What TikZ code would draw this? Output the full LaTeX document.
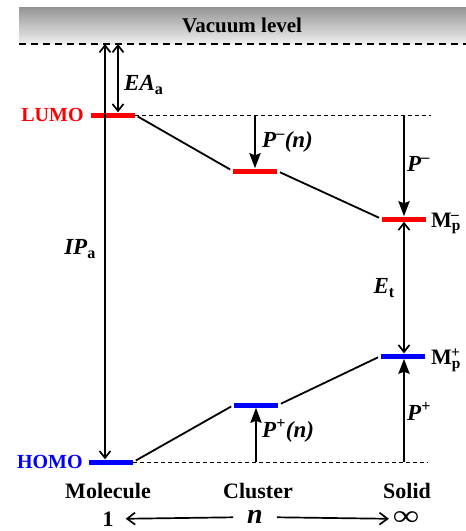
\documentclass[tikz,border=0pt]{standalone}
\usepackage{fontspec}
\setmainfont{Liberation Serif}
\usepackage{xcolor}
\usepackage{tikz}
\usetikzlibrary{positioning,arrows.meta}

\begin{document}
\begin{tikzpicture}[x=1pt,y=-1pt,
  every node/.style={inner sep=1pt},
  level/.style={rectangle,minimum width=44pt,minimum height=5pt,inner sep=0pt},
  lumolvl/.style={level,fill=red},
  homolvl/.style={level,fill=blue},
  lbl/.style={font=\fontsize{23}{27}\selectfont\bfseries\itshape},
  capt/.style={font=\fontsize{22}{26}\selectfont\bfseries},
  thinarr/.style={line width=1.7pt,{Straight Barb[length=7pt,width=11pt]}-{Straight Barb[length=7pt,width=11pt]}},
  thickarr/.style={line width=2.7pt,-{Stealth[length=15pt,width=11pt,inset=2pt]}},
  link/.style={line width=1.8pt,shorten <=3pt,shorten >=3pt},
  refline/.style={line width=1pt,dash pattern=on 4pt off 3pt}]
  \useasboundingbox (0,0) rectangle (466,531);
  % vacuum level band
  \fill[top color=black!42,bottom color=black!6] (19,7) rectangle (466,44);
  \node[font=\fontsize{21}{25}\selectfont\bfseries] (vac) at (242,25) {Vacuum level};
  \coordinate (vacL) at (19,44);
  \coordinate (vacR) at (466,44);
  \draw[line width=2pt,dash pattern=on 7pt off 5pt] (vacL) -- (vacR);
  \coordinate (vacIP) at (105,44);
  \coordinate (vacEA) at (118,44);

  % energy levels: molecule, cluster, solid
  \node[lumolvl] (lumoM) at (113,115) {};
  \node[lumolvl] (lumoC) at (255,171) {};
  \node[lumolvl] (lumoS) at (404,219) {};
  \node[homolvl] (homoM) at (111,462) {};
  \node[homolvl] (homoC) at (256,405) {};
  \node[homolvl] (homoS) at (403,356) {};
  \coordinate (lumoEnd) at (431,115);
  \coordinate (homoEnd) at (428,462);

  \node[font=\fontsize{20}{24}\selectfont\bfseries,text=red,left=6pt of lumoM] (lumo) {LUMO};
  \node[font=\fontsize{20}{24}\selectfont\bfseries,text=blue,left=5pt of homoM] (homo) {HOMO};

  \draw[refline] (lumoM.east) -- (lumoEnd);
  \draw[refline] (homoM.east) -- (homoEnd);
  \draw[link] (lumoM.east) -- (lumoC.west);
  \draw[link] (lumoC.east) -- (lumoS.west);
  \draw[link] (homoM.east) -- (homoC.west);
  \draw[link] (homoC.east) -- (homoS.west);

  % molecule
  \draw[thinarr] (vacIP) -- (vacIP |- homoM.north);
  \draw[thinarr] (vacEA) -- (vacEA |- lumoM.north);
  \node[lbl,anchor=west] (ea) at (123,85) {EA\textsubscript{\upshape a}};
  \node[lbl,anchor=east] (ip) at (97,249) {IP\textsubscript{\upshape a}};

  % cluster
  \draw[thickarr] (lumoC |- lumoM) -- (lumoC.north);
  \draw[thickarr] (homoC |- homoM) -- (homoC.south);
  \node[lbl,anchor=west] (pmn) at (261,142) {P\textsuperscript{\upshape –}(n)};
  \node[lbl,anchor=west] (ppn) at (261,431) {P\textsuperscript{\upshape +}(n)};

  % solid
  \draw[thickarr] (lumoS |- lumoM) -- (lumoS.north);
  \draw[thickarr] (lumoS |- homoM) -- (lumoS |- homoS.south);
  \draw[thinarr] (lumoS.south) -- (lumoS |- homoS.north);
  \node[lbl,anchor=west] (pm) at (406,164) {P\textsuperscript{\upshape –}};
  \node[lbl,anchor=west] (pp) at (406,411) {P\textsuperscript{\upshape +}};
  \node[lbl,anchor=east] (et) at (396,288) {E\textsubscript{\upshape t}};
  \node[font=\fontsize{22}{26}\selectfont\bfseries,anchor=west] (mpm) at (430,223) {M\textsubscript{p}\kern-0.45em\textsuperscript{–}};
  \node[font=\fontsize{22}{26}\selectfont\bfseries,anchor=west] (mpp) at (430,360) {M\textsubscript{p}\kern-0.45em\textsuperscript{+}};

  % size axis
  \node[capt] (mol) at (108,491) {Molecule};
  \node[capt] (clu) at (258,491) {Cluster};
  \node[capt] (sol) at (407,491) {Solid};
  \node[capt,inner sep=0pt] (one) at (108,519) {1};
  \node[font=\fontsize{28}{30}\selectfont\bfseries\itshape,inner sep=0pt] (nn) at (255,517) {n};
  \node[font=\fontsize{29}{30}\selectfont\bfseries,inner sep=0pt] (inf) at (406,519) {\scalebox{1.25}[1]{∞}};
  \draw[line width=1.7pt,-{Straight Barb[length=8pt,width=12pt]},shorten <=14pt,shorten >=12pt] (nn) -- (one);
  \draw[line width=1.7pt,-{Straight Barb[length=8pt,width=12pt]},shorten <=14pt,shorten >=4pt] (nn) -- (inf);
\end{tikzpicture}
\end{document}
